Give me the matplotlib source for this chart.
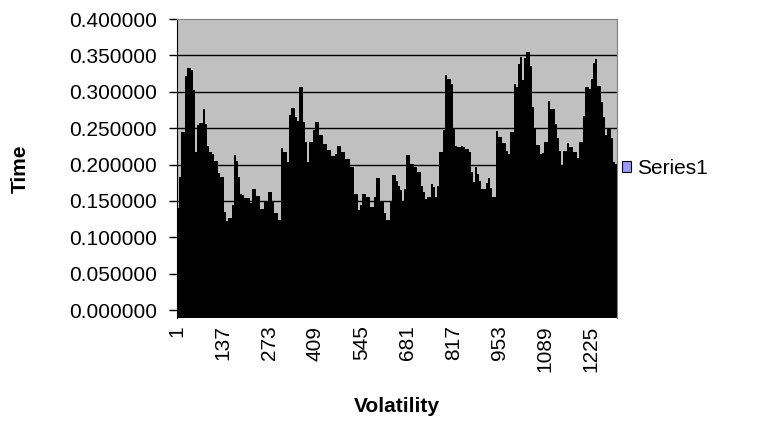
import matplotlib
matplotlib.use('Agg')

import matplotlib.pyplot as plt
import numpy as np
from matplotlib.patches import Patch

plt.rcParams['font.family'] = ['Liberation Sans', 'DejaVu Sans']

# ------------------------------------------------------------
# data: time per volatility bucket (buckets of 6 consecutive values)
# ------------------------------------------------------------
bucket = 6
n_points = 1302
tick_labels = [1, 137, 273, 409, 545, 681, 817, 953, 1089, 1225]

time_values = [
    0.140, 0.183, 0.244, 0.244, 0.322, 0.333, 0.333, 0.330, 0.302, 0.217,
    0.254, 0.257, 0.257, 0.276, 0.256, 0.226, 0.217, 0.215, 0.205, 0.205,
    0.188, 0.183, 0.183, 0.135, 0.123, 0.127, 0.127, 0.145, 0.213, 0.205,
    0.183, 0.160, 0.158, 0.154, 0.154, 0.154, 0.147, 0.167, 0.167, 0.157,
    0.157, 0.139, 0.139, 0.148, 0.148, 0.162, 0.162, 0.150, 0.134, 0.134,
    0.124, 0.223, 0.217, 0.217, 0.203, 0.268, 0.278, 0.278, 0.265, 0.260,
    0.306, 0.306, 0.258, 0.231, 0.203, 0.231, 0.231, 0.247, 0.258, 0.258,
    0.240, 0.240, 0.228, 0.228, 0.220, 0.220, 0.212, 0.212, 0.215, 0.226,
    0.226, 0.217, 0.217, 0.208, 0.208, 0.196, 0.196, 0.160, 0.160, 0.137,
    0.145, 0.160, 0.160, 0.155, 0.155, 0.141, 0.141, 0.155, 0.182, 0.182,
    0.150, 0.150, 0.134, 0.124, 0.124, 0.150, 0.185, 0.185, 0.178, 0.170,
    0.165, 0.150, 0.167, 0.213, 0.213, 0.201, 0.201, 0.196, 0.190, 0.190,
    0.171, 0.162, 0.153, 0.155, 0.155, 0.173, 0.169, 0.155, 0.171, 0.217,
    0.217, 0.247, 0.323, 0.318, 0.318, 0.311, 0.250, 0.226, 0.224, 0.224,
    0.226, 0.224, 0.222, 0.222, 0.217, 0.190, 0.176, 0.196, 0.187, 0.178,
    0.166, 0.166, 0.175, 0.182, 0.168, 0.155, 0.155, 0.246, 0.238, 0.238,
    0.229, 0.229, 0.219, 0.214, 0.245, 0.245, 0.310, 0.306, 0.338, 0.348,
    0.316, 0.347, 0.355, 0.355, 0.335, 0.279, 0.250, 0.227, 0.227, 0.215,
    0.216, 0.231, 0.231, 0.287, 0.276, 0.276, 0.255, 0.236, 0.218, 0.198,
    0.218, 0.218, 0.229, 0.224, 0.224, 0.217, 0.217, 0.209, 0.231, 0.231,
    0.267, 0.307, 0.307, 0.304, 0.317, 0.340, 0.345, 0.308, 0.308, 0.286,
    0.265, 0.241, 0.250, 0.250, 0.237, 0.203, 0.201,
]

bucket_start = np.arange(1, n_points + 1, bucket)[:len(time_values)]

# ------------------------------------------------------------
# figure
# ------------------------------------------------------------
fig = plt.figure(figsize=(7.61, 4.29), dpi=100)
ax = fig.add_axes([0.2326, 0.2587, 0.5788, 0.697])

ymin = -0.011
ax.set_facecolor('#C0C0C0')
ax.set_ylim(ymin, 0.4)
ax.set_xlim(bucket_start[0] - 0.5, bucket_start[-1] + bucket - 0.5)

yticks = np.arange(0, 0.4001, 0.05)
ax.set_yticks(yticks)
ax.set_yticklabels([f'{v:.6f}' for v in yticks])
for v in yticks[1:-1]:
    ax.axhline(v, color='black', lw=1.0, zorder=1)

ax.bar(bucket_start - 0.5, time_values, width=bucket, align='edge',
       color='black', linewidth=0, zorder=2)
# bars run a little past the zero line, like the original sheet
ax.axhspan(ymin, 0, color='black', zorder=2)

ax.set_xticks(tick_labels)
ax.set_xticklabels([str(t) for t in tick_labels], rotation=90)

ax.tick_params(axis='x', length=0, pad=5.4, labelsize=15)
ax.tick_params(axis='y', length=5.8, width=1, pad=8.6, labelsize=15,
               direction='out')

for side in ['top', 'right']:
    ax.spines[side].set_color('#808080')
ax.spines['left'].set_color('black')
ax.spines['bottom'].set_visible(False)

ax.set_ylabel('Time', fontsize=15, fontweight='bold')
ax.yaxis.set_label_coords(-0.334, 0.5)
ax.set_xlabel('Volatility', fontsize=15, fontweight='bold')
ax.xaxis.set_label_coords(0.5, -0.263)

legend_handle = Patch(facecolor='#9999FF', edgecolor='black', linewidth=0.8)
fig.legend([legend_handle], ['Series1'], loc='center left',
           bbox_to_anchor=(0.817, 0.608), frameon=False, fontsize=15,
           borderpad=0, borderaxespad=0,
           handlelength=0.45, handleheight=0.45, handletextpad=0.3)

fig.savefig('out.png', dpi=100)
